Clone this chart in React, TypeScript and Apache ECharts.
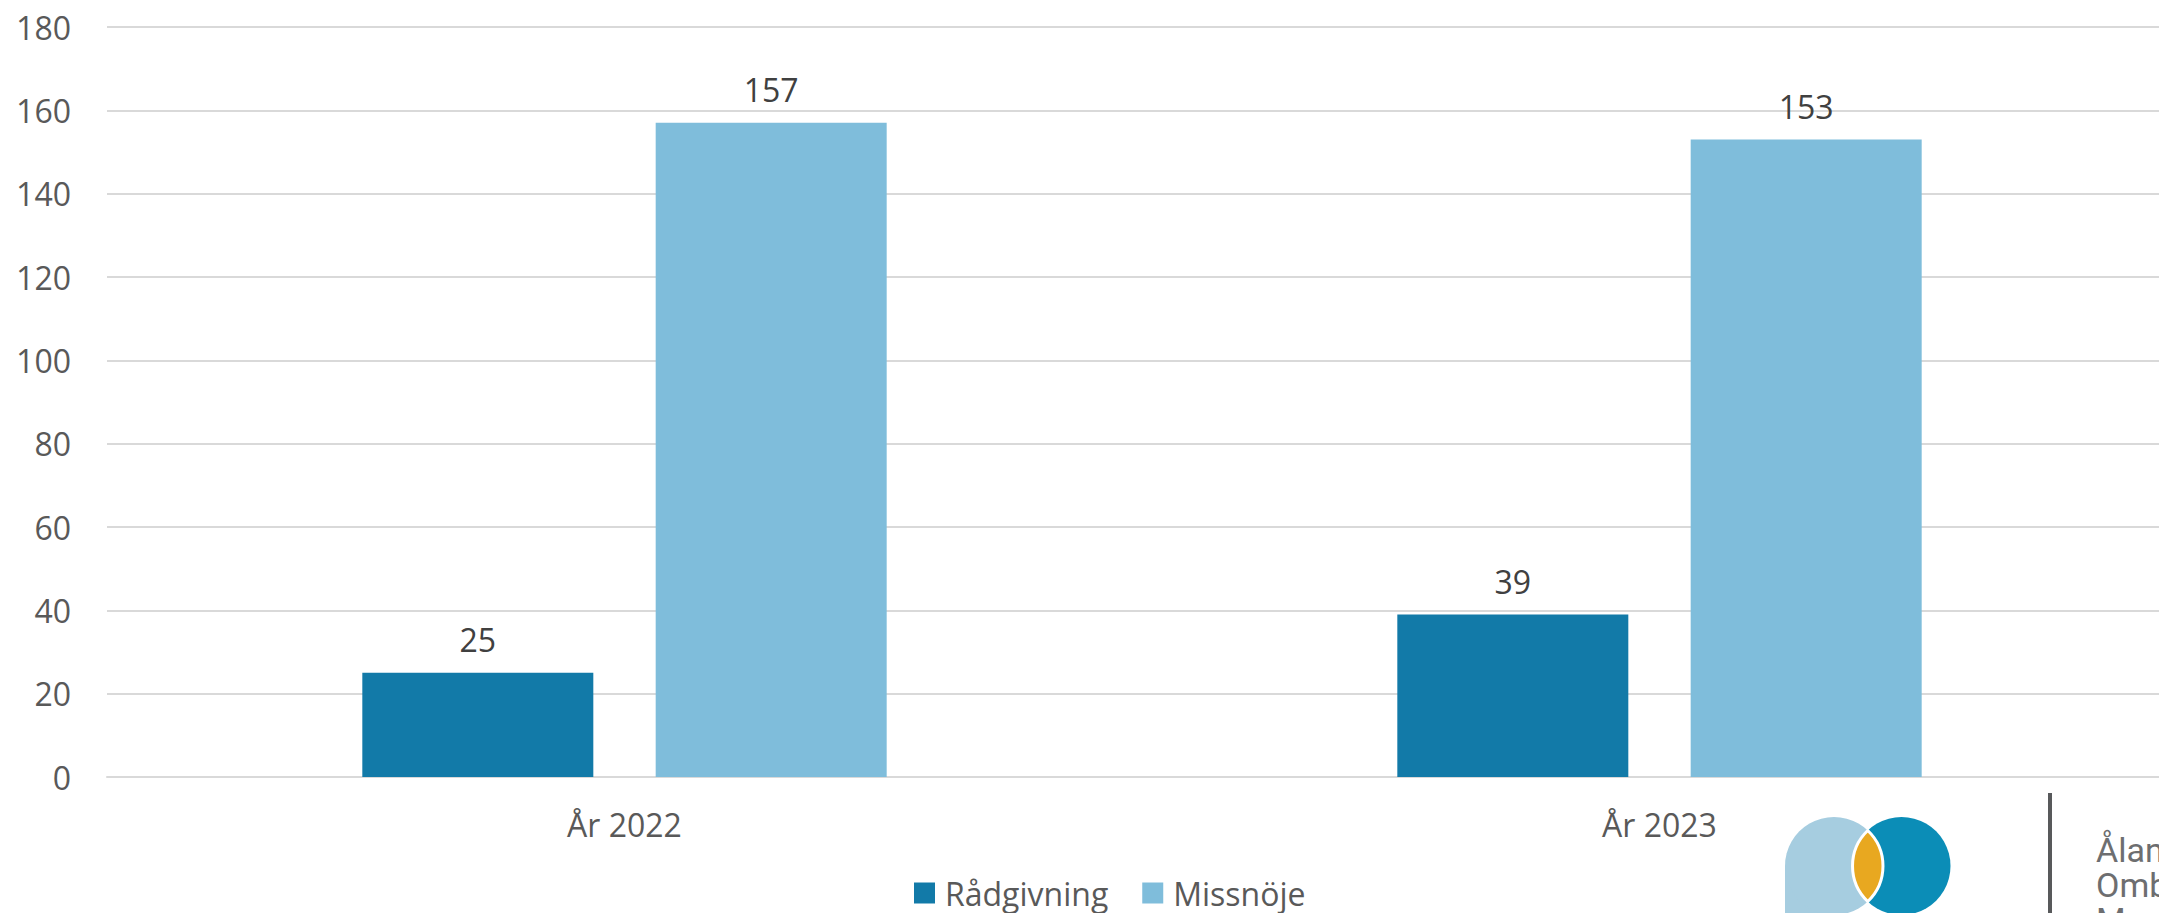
import React, { useEffect, useRef } from "react";
import * as echarts from "echarts";

// Yearly case counts by type
const years = ["År 2022", "År 2023"];
const radgivning = [25, 39];
const missnoje = [157, 153];
const seriesNames = ["Rådgivning", "Missnöje"];
const yTicks = { min: 0, max: 180, step: 20 };
const logoLines = ["Ålands", "Ombudsmanna", "Myndighet"];

const FONT = '"Open Sans", "Noto Sans", sans-serif';
const AXIS_TEXT = "#595959";
const LABEL_TEXT = "#404040";
const GRID_LINE = "#d9d9d9";
const DARK = "#127aa8";
const LIGHT = "#7fbddb";

// Lens shape where the two logo circles overlap
echarts.graphic.registerShape(
  "logoLens",
  echarts.graphic.extendPath(
    "M0,-35.5 A49,49 0 0 0 0,35.5 A49,49 0 0 0 0,-35.5 Z",
    {}
  )
);

export default function App() {
  const ref = useRef<HTMLDivElement>(null);

  useEffect(() => {
    if (!ref.current) return;
    const chart = echarts.init(ref.current, null, { renderer: "svg" });

    const label = {
      show: true,
      position: "top" as const,
      distance: 17,
      fontSize: 32,
      color: LABEL_TEXT,
      fontFamily: FONT,
    };

    chart.setOption({
      animation: false,
      backgroundColor: "#ffffff",
      textStyle: { fontFamily: FONT },
      // plot area runs past the right edge of the visible page
      grid: { left: 107, top: 27, width: 2070, height: 750, containLabel: false },
      legend: {
        data: seriesNames,
        left: 909,
        top: 872,
        icon: "rect",
        itemWidth: 21,
        itemHeight: 21,
        itemGap: 34,
        textStyle: {
          fontSize: 32,
          color: AXIS_TEXT,
          fontFamily: FONT,
          padding: [0, 0, 0, 5],
        },
      },
      xAxis: {
        type: "category",
        data: years,
        axisLine: { show: true, lineStyle: { color: GRID_LINE, width: 2 } },
        axisTick: { show: false },
        axisLabel: { fontSize: 32, color: AXIS_TEXT, margin: 31, fontFamily: FONT },
      },
      yAxis: {
        type: "value",
        min: yTicks.min,
        max: yTicks.max,
        interval: yTicks.step,
        axisLine: { show: false },
        axisTick: { show: false },
        axisLabel: { fontSize: 32, color: AXIS_TEXT, margin: 36, fontFamily: FONT },
        splitLine: { lineStyle: { color: GRID_LINE, width: 2 } },
      },
      series: [
        {
          name: seriesNames[0],
          type: "bar",
          data: radgivning,
          barWidth: 231,
          barGap: "27%",
          itemStyle: { color: DARK },
          label,
        },
        {
          name: seriesNames[1],
          type: "bar",
          data: missnoje,
          barWidth: 231,
          barGap: "27%",
          itemStyle: { color: LIGHT },
          label,
        },
      ],
      graphic: [
        {
          type: "group",
          children: [
            // light blue drop: circle plus squared lower-left corner
            {
              type: "rect",
              shape: { x: 1785, y: 866, width: 49, height: 60 },
              style: { fill: "#a6cde0" },
            },
            {
              type: "circle",
              shape: { cx: 1834, cy: 866, r: 49 },
              style: { fill: "#a6cde0" },
            },
            {
              type: "circle",
              shape: { cx: 1901.5, cy: 866, r: 49 },
              style: { fill: "#0b8db7" },
            },
            {
              type: "logoLens",
              x: 1867.75,
              y: 866,
              style: { fill: "#e8a820", stroke: "#ffffff", lineWidth: 3 },
            },
            {
              type: "line",
              shape: { x1: 2050, y1: 793, x2: 2050, y2: 930 },
              style: { stroke: "#58595b", lineWidth: 4 },
            },
            {
              type: "text",
              x: 2096,
              y: 832,
              style: {
                text: logoLines.join("\n"),
                fontSize: 34,
                lineHeight: 35,
                fontFamily: "Roboto, sans-serif",
                fill: "#6d6e70",
                verticalAlign: "top",
              },
            },
          ],
        },
      ],
    });

    return () => chart.dispose();
  }, []);

  // The chart surface is wider than the window so the plot can bleed off the right edge.
  return (
    <div
      ref={ref}
      style={{ position: "fixed", left: 0, top: 0, width: 2300, height: 913, background: "#fff" }}
    />
  );
}
